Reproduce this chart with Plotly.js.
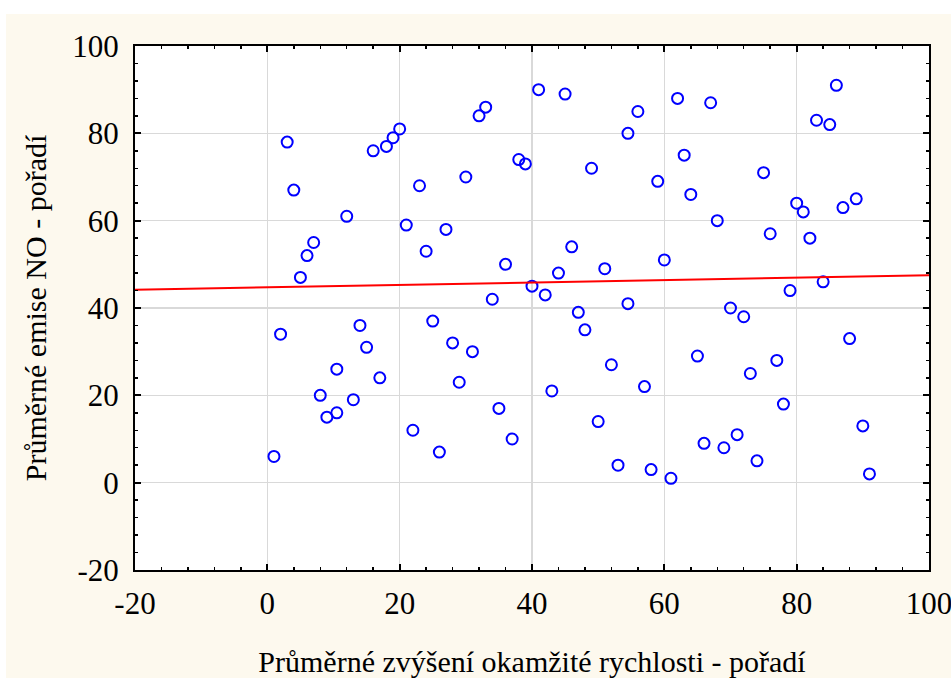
<!DOCTYPE html>
<html><head><meta charset="utf-8">
<script src="https://cdn.plot.ly/plotly-3.0.1.min.js"></script>
<style>
html,body{margin:0;padding:0;background:#ffffff;width:951px;height:678px;overflow:hidden}
#chart{position:absolute;left:6px;top:14px;width:945px;height:664px}
</style>
</head><body><div id="chart"></div>
<script>
// Rank of average speed increase (x) and rank of average NO emission (y)
const rankSpeed = [1,2,3,4,5,6,7,8,9,10.5,10.5,12,13,14,15,16,17,18,19,20,21,22,23,24,25,26,27,28,29,30,31,32,33,34,35,36,37,38,39,40,41,42,43,44,45,46,47,48,49,50,51,52,53,54.5,54.5,56,57,58,59,60,61,62,63,64,65,66,67,68,69,70,71,72,73,74,75,76,77,78,79,80,81,82,83,84,85,86,87,88,89,90,91];
const rankNO = [6,34,78,67,47,52,55,20,15,26,16,61,19,36,31,76,24,77,79,81,59,12,68,53,37,7,58,32,23,70,30,84,86,42,17,50,10,74,73,45,90,43,21,48,89,54,39,35,72,14,49,27,4,80,41,85,22,3,69,51,1,88,75,66,29,9,87,60,8,40,11,38,25,5,71,57,28,18,44,64,62,56,83,46,82,91,63,33,65,13,2];
const axisRange = [-20, 100];
const tickValues = [-20, 0, 20, 40, 60, 80, 100];
const tickLabels = ["-20", "0", "20", "40", "60", "80", "100"];
const xTitle = "Průměrné zvýšení okamžité rychlosti - pořadí";
const yTitle = "Průměrné emise NO - pořadí";

// least-squares fit computed from the data
const n = rankSpeed.length;
const mx = rankSpeed.reduce((a,b)=>a+b,0)/n;
const my = rankNO.reduce((a,b)=>a+b,0)/n;
let sxy = 0, sxx = 0;
for (let i = 0; i < n; i++) { sxy += (rankSpeed[i]-mx)*(rankNO[i]-my); sxx += (rankSpeed[i]-mx)**2; }
const slope = sxy/sxx, intercept = my - slope*mx;
const fitX = axisRange.slice();
const fitY = fitX.map(v => intercept + slope*v);

const font = {family: 'Liberation Serif, Times New Roman, Times, DejaVu Serif, serif', color: '#000'};

function axis(titleText, standoff, labelStandoff) {
  return {
    range: axisRange,
    tickmode: 'array', tickvals: tickValues, ticktext: tickLabels,
    ticks: 'inside', ticklen: 6, tickwidth: 2, tickcolor: '#000',
    ticklabelstandoff: labelStandoff,
    ticklabeloverflow: 'allow',
    minor: {tickmode: 'linear', tick0: -20, dtick: 4, ticks: 'inside', ticklen: 3, tickwidth: 1.5, tickcolor: '#000', showgrid: false},
    showline: true, linecolor: '#000', linewidth: 2, mirror: 'allticks',
    showgrid: true, gridcolor: '#d9d9d9', gridwidth: 1.5,
    zeroline: false,
    tickfont: Object.assign({size: 31}, font),
    title: {text: titleText, font: Object.assign({size: 30}, font), standoff: standoff},
    fixedrange: true
  };
}

const data = [
  {x: rankSpeed, y: rankNO, type: 'scatter', mode: 'markers',
   marker: {symbol: 'circle-open', size: 11, color: '#0000ff', line: {width: 2, color: '#0000ff'}},
   hoverinfo: 'skip', showlegend: false},
  {x: fitX, y: fitY, type: 'scatter', mode: 'lines',
   line: {color: '#ff0000', width: 2}, hoverinfo: 'skip', showlegend: false}
];

const layout = {
  width: 945, height: 664,
  margin: {l: 129, r: 22, t: 32, b: 108},
  paper_bgcolor: '#fdf9ee', plot_bgcolor: '#ffffff',
  font: font,
  xaxis: axis(xTitle, 36, 5),
  yaxis: axis(yTitle, 17, 8),
  showlegend: false
};

Plotly.newPlot('chart', data, layout, {staticPlot: true, displayModeBar: false});
</script>
</body></html>
